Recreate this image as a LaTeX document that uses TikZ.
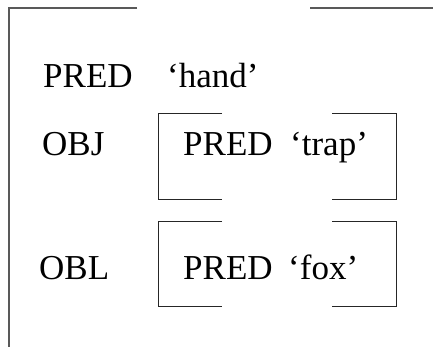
\documentclass[tikz,border=0pt]{standalone}
\usepackage{fontspec}
\setmainfont{Liberation Serif}
\usepackage{tikz}
\tikzset{
	fstext/.style={anchor=base west, inner sep=0pt, font=\fontsize{35}{40}\selectfont},
	outerbrack/.style={line width=1.3pt, color=black!65},
	innerbrack/.style={line width=1pt, color=black!85}
}
% square bracket pair: (left x, top y, right x, bottom y, arm length)
\def\brackbox[#1](#2,#3,#4,#5,#6){%
	\draw[#1] (#2+#6, #3) -- (#2, #3) -- (#2, #5) -- (#2+#6, #5);
	\draw[#1] (#4-#6, #3) -- (#4, #3) -- (#4, #5) -- (#4-#6, #5);}

\begin{document}
\begin{tikzpicture}[x=1pt, y=-1pt]
		%%%%% START %%%%%
		\useasboundingbox (0, 0) rectangle (433, 347);
		
		% outer f-structure (runs off the page)
		\draw[outerbrack] (137, 8) -- (9, 8) -- (9, 350);
		\draw[outerbrack] (310, 8) -- (436, 8);
		
		\node[fstext] (predhand) at (43, 88) {PRED};
		\node[fstext] (hand) at (167, 88) {`hand'};
		
		\node[fstext] (obj) at (42, 156) {OBJ};
		\node[fstext] (obl) at (39, 279) {OBL};
		
		% embedded f-structures
		\brackbox[innerbrack](158, 114, 396, 200, 64);
		\brackbox[innerbrack](158, 221, 396, 306, 64);
		
		\node[fstext] (predtrap) at (183, 156) {PRED};
		\node[fstext] (trap) at (290, 156) {`trap'};
		
		\node[fstext] (predfox) at (183, 279) {PRED};
		\node[fstext] (fox) at (288, 279) {`fox'};
		
		%%%%% END %%%%%
	\end{tikzpicture}
\end{document}
